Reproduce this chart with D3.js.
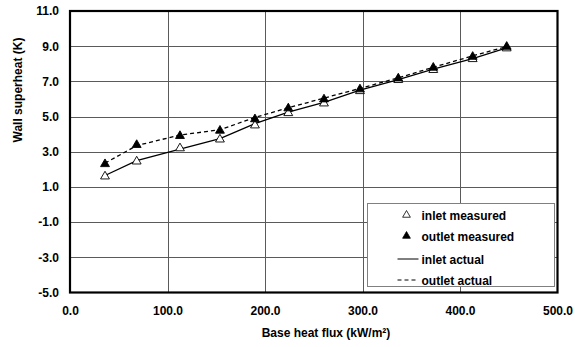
<!DOCTYPE html>
<html>
<head>
<meta charset="utf-8">
<script src="https://cdn.jsdelivr.net/npm/d3@7"></script>
<style>
  html, body { margin: 0; padding: 0; background: #fff; }
  svg { display: block; }
  svg text { font-family: "Liberation Sans", Arial, sans-serif; font-weight: bold; font-size: 12px; fill: #000; }
</style>
</head>
<body>
<svg id="chart" width="575" height="347"></svg>
<script>
// Base heat flux (kW/m²)
const heatFlux = [35.9, 68.4, 112.8, 153.8, 189.7, 223.9, 260.5, 297.4, 336.7, 372.6, 413.0, 447.9];
// Wall superheat (K)
const inletMeasured  = [1.6, 2.45, 3.2, 3.7, 4.5, 5.2, 5.75, 6.45, 7.08, 7.65, 8.27, 8.88];
const outletMeasured = [2.3, 3.39, 3.9, 4.2, 4.85, 5.47, 5.98, 6.55, 7.17, 7.78, 8.4, 8.97];
const inletActual    = [1.65, 2.5, 3.15, 3.75, 4.6, 5.25, 5.8, 6.5, 7.1, 7.7, 8.3, 8.9];
const outletActual   = [2.35, 3.35, 3.95, 4.25, 4.95, 5.5, 6.05, 6.6, 7.2, 7.8, 8.45, 8.98];

const xTicks = [0, 100, 200, 300, 400, 500];
const yTicks = [-5, -3, -1, 1, 3, 5, 7, 9, 11];

const legendItems = [
  { label: "inlet measured",  kind: "open" },
  { label: "outlet measured", kind: "filled" },
  { label: "inlet actual",    kind: "solid" },
  { label: "outlet actual",   kind: "dashed" }
];

const svg = d3.select("#chart");
const plot = { left: 70, right: 557.5, top: 11, bottom: 292.5 };

const x = d3.scaleLinear().domain([0, 500]).range([plot.left, plot.right]);
const y = d3.scaleLinear().domain([-5, 11]).range([plot.bottom, plot.top]);
const fmt = d => d.toFixed(1);

// grid lines
svg.append("g")
  .selectAll("line")
  .data(yTicks.slice(1, -1))
  .join("line")
  .attr("x1", plot.left).attr("x2", plot.right)
  .attr("y1", d => Math.round(y(d)) + 0.5).attr("y2", d => Math.round(y(d)) + 0.5)
  .attr("stroke", "#5a5a5a").attr("stroke-width", 1);

svg.append("g")
  .selectAll("line")
  .data(xTicks.slice(1, -1))
  .join("line")
  .attr("y1", plot.top).attr("y2", plot.bottom)
  .attr("x1", d => Math.round(x(d)) + 0.5).attr("x2", d => Math.round(x(d)) + 0.5)
  .attr("stroke", "#5a5a5a").attr("stroke-width", 1);

// axes (labels only; frame drawn separately)
const xAxis = svg.append("g")
  .attr("transform", `translate(0,${plot.bottom})`)
  .call(d3.axisBottom(x).tickValues(xTicks).tickFormat(fmt).tickSize(0).tickPadding(14));
xAxis.select(".domain").remove();
xAxis.attr("font-size", null).attr("font-family", null);

const yAxis = svg.append("g")
  .attr("transform", `translate(${plot.left},0)`)
  .call(d3.axisLeft(y).tickValues(yTicks).tickFormat(fmt).tickSize(0).tickPadding(11));
yAxis.select(".domain").remove();
yAxis.attr("font-size", null).attr("font-family", null);

// series lines
const pts = vals => heatFlux.map((h, i) => [h, vals[i]]);
const line = d3.line().x(d => x(d[0])).y(d => y(d[1]));

svg.append("path").datum(pts(inletActual))
  .attr("d", line).attr("fill", "none").attr("stroke", "#000").attr("stroke-width", 1.3);
svg.append("path").datum(pts(outletActual))
  .attr("d", line).attr("fill", "none").attr("stroke", "#000").attr("stroke-width", 1.3)
  .attr("stroke-dasharray", "4,3");

// triangle markers
const tri = d3.symbol().type(d3.symbolTriangle).size(34);
svg.append("g").selectAll("path")
  .data(pts(inletMeasured)).join("path")
  .attr("d", tri)
  .attr("transform", d => `translate(${x(d[0])},${y(d[1])})`)
  .attr("fill", "#fff").attr("stroke", "#000").attr("stroke-width", 0.9);
svg.append("g").selectAll("path")
  .data(pts(outletMeasured)).join("path")
  .attr("d", tri)
  .attr("transform", d => `translate(${x(d[0])},${y(d[1])})`)
  .attr("fill", "#000").attr("stroke", "#000").attr("stroke-width", 0.9);

// plot frame
svg.append("rect")
  .attr("x", plot.left).attr("y", plot.top)
  .attr("width", plot.right - plot.left).attr("height", plot.bottom - plot.top)
  .attr("fill", "none").attr("stroke", "#000").attr("stroke-width", 2.2);

// legend
const lg = svg.append("g").attr("transform", "translate(367.5,203.5)");
lg.append("rect").attr("width", 187).attr("height", 83)
  .attr("fill", "#fff").attr("stroke", "#808080").attr("stroke-width", 1);
const rowY = [11.5, 32.5, 55.5, 76.5];
const smallTri = d3.symbol().type(d3.symbolTriangle).size(26);
legendItems.forEach((item, i) => {
  const g = lg.append("g").attr("transform", `translate(0,${rowY[i]})`);
  if (item.kind === "open" || item.kind === "filled") {
    g.append("path").attr("d", smallTri)
      .attr("transform", "translate(39,0)")
      .attr("fill", item.kind === "open" ? "#fff" : "#000")
      .attr("stroke", "#000").attr("stroke-width", 0.8);
  } else {
    g.append("line").attr("x1", 30).attr("x2", 51).attr("y1", 0).attr("y2", 0)
      .attr("stroke", "#000").attr("stroke-width", 1)
      .attr("stroke-dasharray", item.kind === "dashed" ? "4,3" : null);
  }
  g.append("text").attr("x", 54).attr("y", 4.5).text(item.label);
});

// axis titles
svg.append("text").attr("x", 326).attr("y", 337).attr("text-anchor", "middle")
  .text("Base heat flux (kW/m²)");
svg.append("text").attr("transform", "translate(21.5,90) rotate(-90)").attr("text-anchor", "middle")
  .text("Wall superheat (K)");
</script>
</body>
</html>
